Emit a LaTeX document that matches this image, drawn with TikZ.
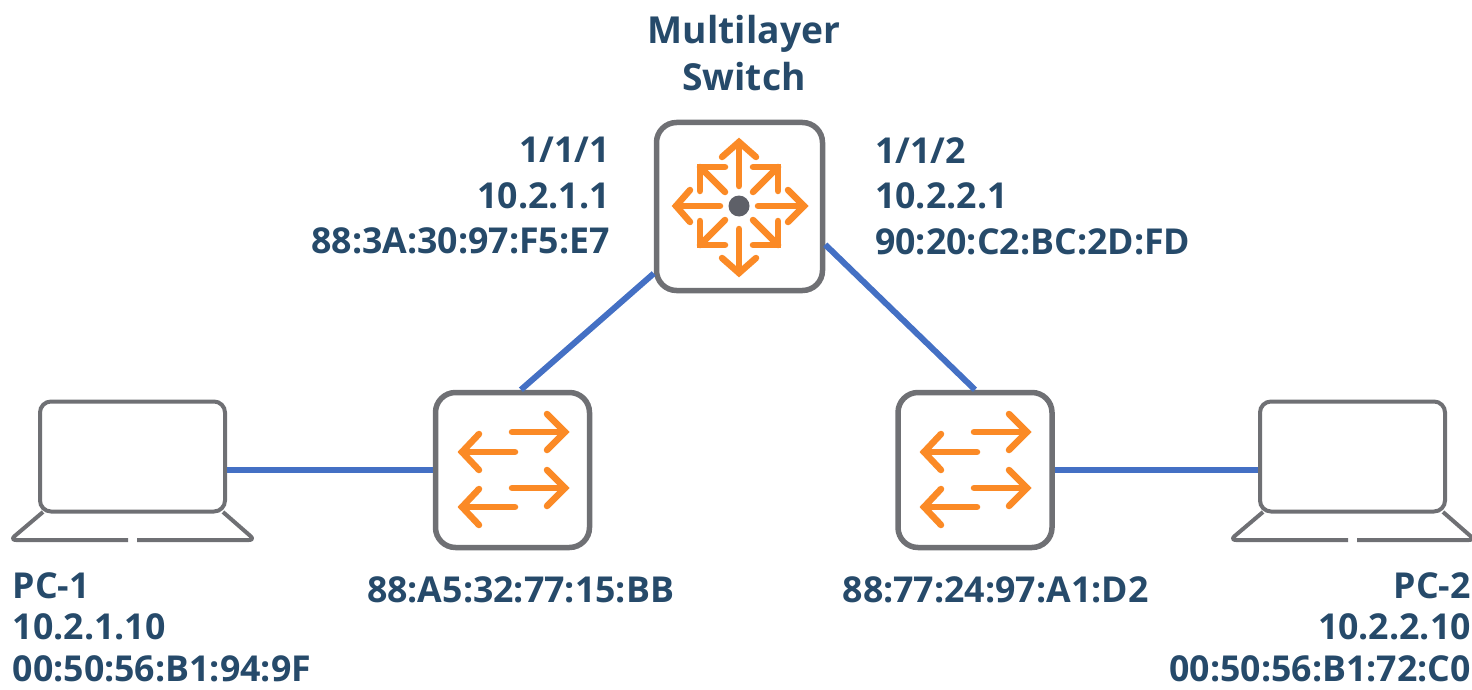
\documentclass[tikz,border=0pt]{standalone}
\usepackage{fontspec}
\setmainfont{Open Sans}
\definecolor{txt}{HTML}{264A6A}
\definecolor{edge}{HTML}{6F7074}
\definecolor{link}{HTML}{4470C4}
\definecolor{arrowc}{HTML}{FB8A26}
\definecolor{hub}{HTML}{5E6068}
\tikzset{
  x=1pt,y=-1pt,
  devbox/.style={draw=edge,line width=5.5pt,rounded corners=20pt,fill=white,inner sep=0pt},
  screenbox/.style={draw=edge,line width=4pt,rounded corners=11pt,fill=white,inner sep=0pt,minimum width=185pt,minimum height=110pt},
  baseline path/.style={draw=edge,line width=4pt,line join=round,rounded corners=6pt},
  wire/.style={draw=link,line width=6pt},
  ico/.style={draw=arrowc,line width=6.5pt,line cap=round,line join=miter},
  lbl/.style={text=txt,font=\fontsize{35.7}{45.5}\selectfont\bfseries,inner sep=0pt},
}
\begin{document}
\begin{tikzpicture}
\useasboundingbox (0,0) rectangle (1472,690);
\node[devbox,minimum width=166pt,minimum height=168pt] (ml) at (739.5,206.5) {};
\node[devbox,minimum width=154pt,minimum height=155pt] (ls) at (512.5,470) {};
\node[devbox,minimum width=154pt,minimum height=155pt] (rs) at (975,470) {};
\node[screenbox] (pc1) at (132.5,456.5) {};
\node[screenbox] (pc2) at (1352.5,456.5) {};
% links
\draw[wire] (pc1.east |- ls.west) -- (ls.west);
\draw[wire] (ml.218) -- (ls.84);
\draw[wire] (ml.-24.5) -- (rs.north);
\draw[wire] (rs.east) -- (rs.east -| pc2.west);
% laptop bases
\foreach \o in {0,1220}{
  \begin{scope}[xshift=\o pt]
  \draw[baseline path] (128,540) -- (10,540) -- (43,512);
  \draw[baseline path] (137,540) -- (255,540) -- (223,512);
  \end{scope}
}
% multilayer icon
\begin{scope}[ico,shift={(739,206)}]
  \draw (19,0) -- (65,0); \draw (49,-16) -- (65,0) -- (49,16);
  \draw (-19,0) -- (-63,0); \draw (-49,-16) -- (-63,0) -- (-49,16);
  \draw (0,-20) -- (0,-64); \draw (-17,-49) -- (0,-64) -- (17,-49);
  \draw (0,23) -- (0,67); \draw (-17,52) -- (0,67) -- (17,52);
  \draw (14,-14) -- (39,-39); \draw (14,-39) -- (39,-39) -- (39,-15);
  \draw (-14,-14) -- (-39,-39); \draw (-14,-39) -- (-39,-39) -- (-39,-15);
  \draw (14,14) -- (39,39); \draw (14,39) -- (39,39) -- (39,15);
  \draw (-14,14) -- (-39,39); \draw (-14,39) -- (-39,39) -- (-39,15);
\end{scope}
\fill[hub] (739,206) circle[radius=10.5pt];
% switch icons
\foreach \o in {0,462}{
\begin{scope}[ico,xshift=\o pt]
  \foreach \yy in {432,488}{
    \draw (512,\yy) -- (565,\yy);
    \draw (547,\yy-18) -- (565,\yy) -- (547,\yy+18);
  }
  \foreach \yy in {452,507}{
    \draw (515,\yy) -- (462,\yy);
    \draw (479,\yy-18) -- (462,\yy) -- (479,\yy+18);
  }
\end{scope}}
% labels
\node[lbl,align=center,anchor=center,font=\fontsize{37.2}{47}\selectfont\bfseries] (t0) at (744,53) {Multilayer\\Switch};
\node[lbl,align=right,anchor=north east] (t1) at (610,137) {1/1/1\\10.2.1.1\\88:3A:30:97:F5:E7};
\node[lbl,align=left,anchor=north west] (t2) at (875,137) {1/1/2\\10.2.2.1\\90:20:C2:BC:2D:FD};
\node[lbl,anchor=center] (t3) at (520.5,590) {88:A5:32:77:15:BB};
\node[lbl,anchor=center] (t4) at (995.5,590) {88:77:24:97:A1:D2};
\node[lbl,align=left,anchor=north west,font=\fontsize{35.7}{41.5}\selectfont\bfseries] (t5) at (12.5,572) {PC-1\\10.2.1.10\\00:50:56:B1:94:9F};
\node[lbl,align=right,anchor=north east,font=\fontsize{35.7}{41.5}\selectfont\bfseries] (t6) at (1471,572) {PC-2\\10.2.2.10\\00:50:56:B1:72:C0};
\end{tikzpicture}
\end{document}
